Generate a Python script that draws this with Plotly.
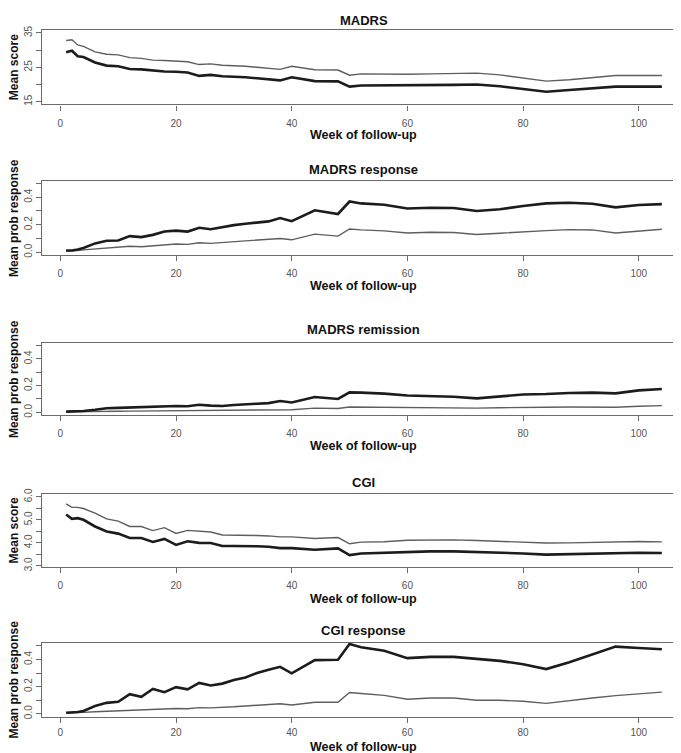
import plotly.graph_objects as go

weeks = [1, 2, 3, 4, 6, 8, 10, 12, 14, 16, 18, 20, 22, 24, 26, 28, 30, 32, 34, 36, 38, 40,
         44, 48, 50, 52, 56, 60, 64, 68, 72, 76, 80, 84, 88, 92, 96, 100, 104]

madrs_grey = [32.8, 33.0, 31.5, 31.1, 29.5, 28.8, 28.6, 27.8, 27.6, 27.1, 27.0, 26.8, 26.6, 25.8,
              26.0, 25.6, 25.5, 25.3, 25.0, 24.6, 24.4, 25.3, 24.3, 24.2, 22.7, 23.1, 23.0, 23.0,
              23.1, 23.2, 23.3, 22.8, 21.9, 21.0, 21.4, 22.0, 22.6, 22.6, 22.6]
madrs_black = [29.4, 29.8, 28.2, 28.0, 26.4, 25.5, 25.3, 24.5, 24.4, 24.0, 23.8, 23.7, 23.5, 22.5,
               22.8, 22.4, 22.3, 22.1, 21.8, 21.5, 21.2, 22.1, 21.0, 20.9, 19.4, 19.7, 19.7, 19.7,
               19.8, 19.9, 20.0, 19.5, 18.7, 17.9, 18.4, 18.9, 19.4, 19.4, 19.4]

resp_black = [0.012, 0.012, 0.02, 0.03, 0.064, 0.083, 0.085, 0.117, 0.11, 0.126, 0.15, 0.157, 0.15,
              0.178, 0.167, 0.183, 0.197, 0.207, 0.217, 0.224, 0.248, 0.226, 0.305, 0.278, 0.369,
              0.355, 0.345, 0.318, 0.323, 0.322, 0.30, 0.312, 0.336, 0.355, 0.36, 0.352, 0.326,
              0.343, 0.35]
resp_grey = [0.01, 0.01, 0.012, 0.017, 0.024, 0.03, 0.033, 0.043, 0.04, 0.048, 0.057, 0.06, 0.057,
             0.069, 0.064, 0.07, 0.076, 0.083, 0.087, 0.09, 0.10, 0.09, 0.131, 0.117, 0.169, 0.162,
             0.155, 0.14, 0.145, 0.143, 0.129, 0.138, 0.15, 0.157, 0.164, 0.162, 0.14, 0.155, 0.167]

rem_black = [0.005, 0.005, 0.007, 0.01, 0.019, 0.03, 0.033, 0.036, 0.038, 0.045, 0.043, 0.047, 0.045,
             0.057, 0.05, 0.047, 0.055, 0.062, 0.064, 0.069, 0.085, 0.073, 0.114, 0.10, 0.149, 0.147,
             0.14, 0.126, 0.123, 0.116, 0.104, 0.121, 0.133, 0.137, 0.145, 0.147, 0.142, 0.164, 0.175]
rem_grey = [0.003, 0.003, 0.004, 0.005, 0.006, 0.007, 0.008, 0.009, 0.01, 0.011, 0.011, 0.012, 0.012,
            0.014, 0.013, 0.012, 0.014, 0.016, 0.017, 0.019, 0.022, 0.019, 0.031, 0.028, 0.04, 0.039,
            0.038, 0.036, 0.035, 0.033, 0.031, 0.034, 0.038, 0.038, 0.04, 0.04, 0.038, 0.045, 0.05]

cgi_grey = [5.69, 5.54, 5.54, 5.49, 5.29, 5.04, 4.94, 4.71, 4.71, 4.53, 4.66, 4.41, 4.54, 4.49, 4.47,
            4.34, 4.34, 4.34, 4.32, 4.30, 4.26, 4.26, 4.19, 4.23, 3.96, 4.03, 4.05, 4.11, 4.13, 4.13,
            4.10, 4.06, 4.03, 3.99, 4.0, 4.03, 4.06, 4.06, 4.04]
cgi_black = [5.23, 5.04, 5.07, 5.0, 4.71, 4.49, 4.40, 4.21, 4.21, 4.04, 4.17, 3.91, 4.07, 4.0, 3.99,
             3.86, 3.86, 3.87, 3.85, 3.83, 3.77, 3.77, 3.70, 3.76, 3.47, 3.54, 3.57, 3.63, 3.63, 3.63,
             3.61, 3.59, 3.54, 3.49, 3.51, 3.54, 3.57, 3.57, 3.56]

cgiresp_black = [0.007, 0.007, 0.012, 0.02, 0.057, 0.08, 0.088, 0.144, 0.125, 0.182, 0.159, 0.196,
                 0.18, 0.227, 0.208, 0.222, 0.248, 0.267, 0.30, 0.324, 0.346, 0.298, 0.395, 0.398,
                 0.514, 0.49, 0.464, 0.41, 0.419, 0.419, 0.407, 0.39, 0.365, 0.329, 0.38, 0.438,
                 0.495, 0.485, 0.476]
cgiresp_grey = [0.005, 0.005, 0.007, 0.01, 0.014, 0.017, 0.019, 0.026, 0.026, 0.033, 0.031, 0.038,
                0.036, 0.045, 0.043, 0.045, 0.051, 0.057, 0.063, 0.069, 0.073, 0.064, 0.085, 0.085,
                0.156, 0.149, 0.135, 0.107, 0.116, 0.116, 0.099, 0.099, 0.092, 0.076, 0.097, 0.116,
                0.133, 0.147, 0.159]

titles = ["MADRS", "MADRS response", "MADRS remission", "CGI", "CGI response"]
ylabels = ["Mean score", "Mean prob response", "Mean prob response", "Mean score", "Mean prob response"]
xlabel = "Week of follow-up"
x_ticks = [0, 20, 40, 60, 80, 100]
y_tickvals = [[15, 20, 25, 30, 35],
              [0.0, 0.1, 0.2, 0.3, 0.4, 0.5],
              [0.0, 0.1, 0.2, 0.3, 0.4, 0.5],
              [3.0, 3.5, 4.0, 4.5, 5.0, 5.5, 6.0],
              [0.0, 0.1, 0.2, 0.3, 0.4, 0.5]]
y_ticktext = [["15", "", "25", "", "35"],
              ["0.0", "", "0.2", "", "0.4", ""],
              ["0.0", "", "0.2", "", "0.4", ""],
              ["3.0", "", "4.0", "", "5.0", "", "6.0"],
              ["0.0", "", "0.2", "", "0.4", ""]]
y_ranges = [[14.2, 35.9], [-0.021, 0.52], [-0.021, 0.52], [2.94, 6.14], [-0.021, 0.525]]
series = [(madrs_grey, madrs_black), (resp_grey, resp_black), (rem_grey, rem_black),
          (cgi_grey, cgi_black), (cgiresp_grey, cgiresp_black)]

W, H = 681, 753
# panel boxes in pixels (top, bottom)
boxes = [(16, 91.7), (169, 244.3), (333.3, 406.5), (486, 560.7), (637, 712)]
title_y = [7, 158, 320, 475, 625]
xlab_y = [123, 276, 438, 593, 743]
x_left, x_right = 34.3, 677.7

FONT = "Liberation Sans, Arial, Helvetica, sans-serif"
BOXC = "#6a6a6a"

fig = go.Figure()
layout = dict(width=W, height=H, margin=dict(l=0, r=0, t=0, b=0),
              paper_bgcolor="white", plot_bgcolor="white", showlegend=False,
              font=dict(family=FONT, color="#222"))
annotations = []
for i in range(5):
    k = "" if i == 0 else str(i + 1)
    g, b = series[i]
    fig.add_trace(go.Scatter(x=weeks, y=g, mode="lines", line=dict(color="#5e5e5e", width=1.4),
                             xaxis="x" + k, yaxis="y" + k, hoverinfo="skip"))
    fig.add_trace(go.Scatter(x=weeks, y=b, mode="lines", line=dict(color="#1c1c1c", width=2.6),
                             xaxis="x" + k, yaxis="y" + k, hoverinfo="skip"))
    top, bot = boxes[i]
    layout["xaxis" + k] = dict(domain=[x_left / W, x_right / W], anchor="y" + k,
                               range=[-3.12, 108.12], tickvals=x_ticks,
                               showline=True, mirror=True, linecolor=BOXC, linewidth=1.2,
                               ticks="outside", ticklen=5, tickcolor=BOXC, tickwidth=1,
                               ticklabelstandoff=(4 if i < 4 else 1),
                               showgrid=False, zeroline=False,
                               tickfont=dict(size=10, color="#555", family=FONT))
    layout["yaxis" + k] = dict(domain=[1 - bot / H, 1 - top / H], anchor="x" + k,
                               range=y_ranges[i], tickvals=y_tickvals[i], ticktext=y_ticktext[i],
                               tickangle=-90,
                               showline=True, mirror=True, linecolor=BOXC, linewidth=1.2,
                               ticks="outside", ticklen=5, tickcolor=BOXC, tickwidth=1,
                               showgrid=False, zeroline=False,
                               tickfont=dict(size=10, color="#555", family=FONT))
    annotations.append(dict(text="<b>%s</b>" % titles[i], xref="paper", yref="paper",
                            x=(x_left + x_right) / 2 / W, y=1 - title_y[i] / H,
                            xanchor="center", yanchor="middle", showarrow=False,
                            font=dict(size=13, color="#111", family=FONT)))
    annotations.append(dict(text="<b>%s</b>" % xlabel, xref="paper", yref="paper",
                            x=(x_left + x_right) / 2 / W, y=1 - xlab_y[i] / H,
                            xanchor="center", yanchor="middle", showarrow=False,
                            font=dict(size=12.5, color="#111", family=FONT)))
    annotations.append(dict(text="<b>%s</b>" % ylabels[i], xref="paper", yref="paper",
                            x=6 / W, y=1 - (top + bot) / 2 / H, textangle=-90,
                            xanchor="center", yanchor="middle", showarrow=False,
                            font=dict(size=12, color="#111", family=FONT)))
layout["annotations"] = annotations
fig.update_layout(**layout)
fig.write_html("out.html")
